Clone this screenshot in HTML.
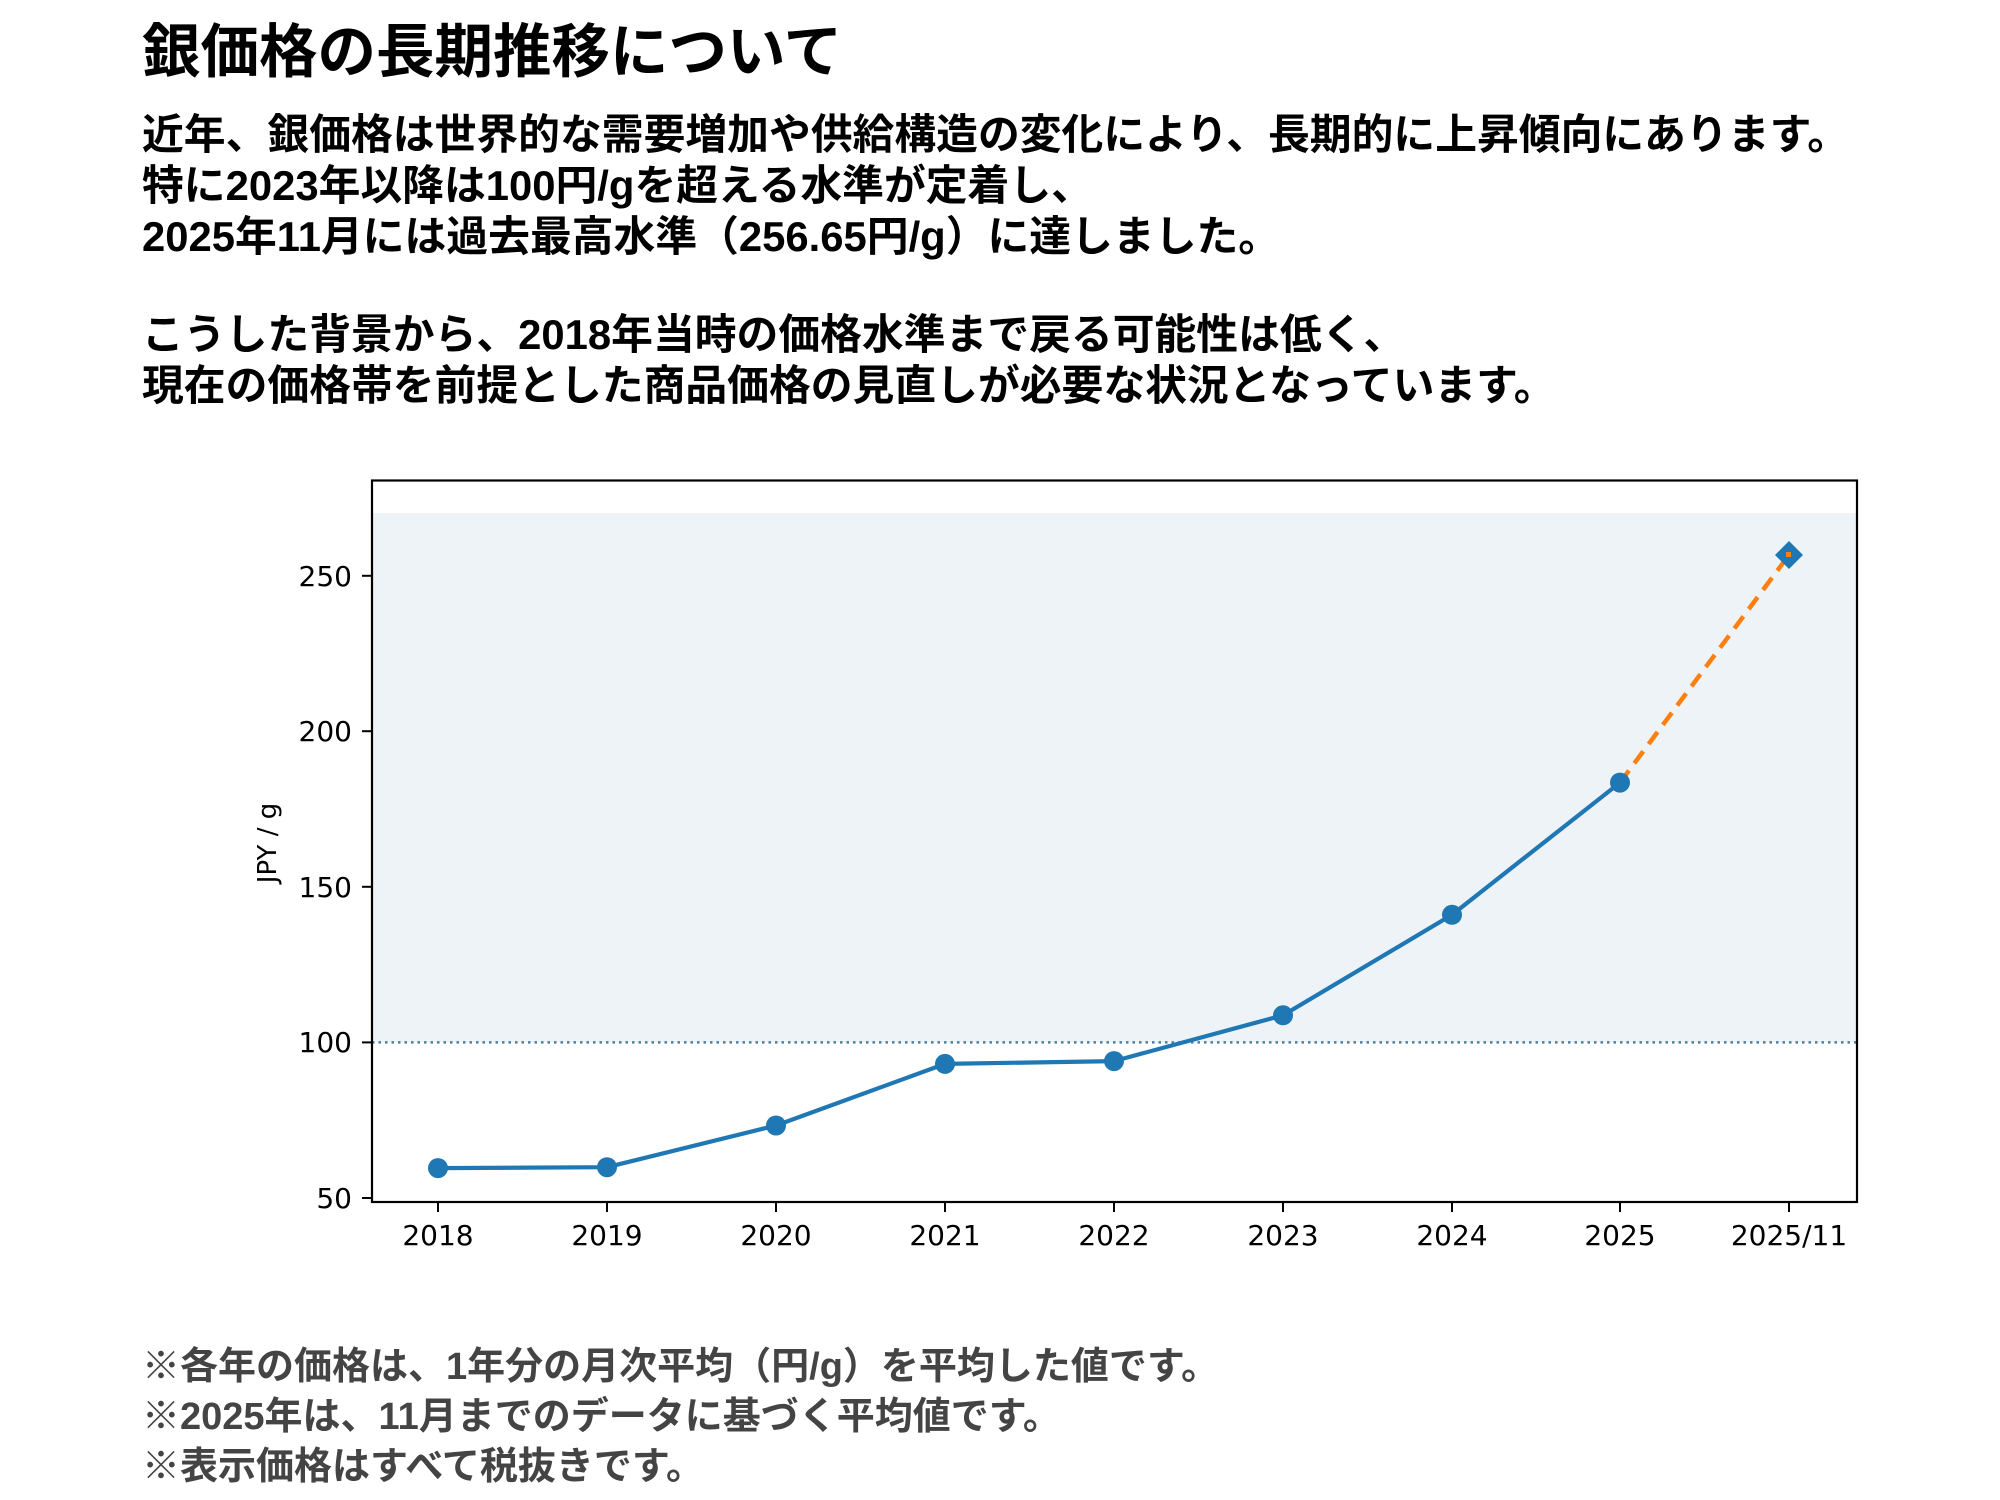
<!DOCTYPE html>
<html><head><meta charset="utf-8"><style>
body{margin:0;width:2000px;height:1500px;background:#fff;overflow:hidden;position:relative;font-family:"Liberation Sans","Noto Sans CJK JP",sans-serif;}
.t{position:absolute;left:142px;white-space:nowrap;font-weight:bold;color:#000;}
</style></head><body>
<div class="t" style="top:16px;font-size:58.5px;line-height:74px;">銀価格の長期推移について</div>
<div class="t" style="top:109px;font-size:41.8px;line-height:51px;">近年、銀価格は世界的な需要増加や供給構造の変化により、長期的に上昇傾向にあります。<br>特に2023年以降は100円/gを超える水準が定着し、<br>2025年11月には過去最高水準（256.65円/g）に達しました。</div>
<div class="t" style="top:309px;font-size:41.8px;line-height:51px;">こうした背景から、2018年当時の価格水準まで戻る可能性は低く、<br>現在の価格帯を前提とした商品価格の見直しが必要な状況となっています。</div>
<div class="t" style="top:1342px;font-size:38px;line-height:50px;color:#444;">※各年の価格は、1年分の月次平均（円/g）を平均した値です。<br>※2025年は、11月までのデータに基づく平均値です。<br>※表示価格はすべて税抜きです。</div>
<svg style="position:absolute;left:0;top:0" width="2000" height="1500" font-family="DejaVu Sans, sans-serif" font-size="28">
<rect x="372" y="513" width="1485" height="529.4" fill="#edf3f7"/>
<line x1="372" y1="1042.4" x2="1857" y2="1042.4" stroke="#4a7fa8" stroke-width="2.5" stroke-dasharray="2.5,4"/>
<polyline fill="none" stroke="#1f77b4" stroke-width="4.2" stroke-linejoin="round" points="438,1168.1 607,1167.2 776,1125.5 945,1063.9 1114,1061.1 1283,1015.3 1452,914.8 1620,782.6"/>
<line x1="1620" y1="782.6" x2="1789" y2="554.9" stroke="#ff7f0e" stroke-width="4.5" stroke-dasharray="15,9"/>
<g fill="#1f77b4">
<circle cx="438" cy="1168.1" r="10"/><circle cx="607" cy="1167.2" r="10"/><circle cx="776" cy="1125.5" r="10"/><circle cx="945" cy="1063.9" r="10"/><circle cx="1114" cy="1061.1" r="10"/><circle cx="1283" cy="1015.3" r="10"/><circle cx="1452" cy="914.8" r="10"/><circle cx="1620" cy="782.6" r="10"/>
<polygon points="1789,541 1803,555 1789,569 1775,555"/>
</g>
<rect x="1786" y="552" width="5" height="5" fill="#ff7f0e"/>
<rect x="372" y="480.5" width="1485" height="721.5" fill="none" stroke="#000" stroke-width="2.2"/>
<g stroke="#000" stroke-width="2">
<line x1="362" y1="575.8" x2="372" y2="575.8"/><line x1="362" y1="731.2" x2="372" y2="731.2"/><line x1="362" y1="886.8" x2="372" y2="886.8"/><line x1="362" y1="1042.4" x2="372" y2="1042.4"/><line x1="362" y1="1198" x2="372" y2="1198"/>
<line x1="438" y1="1202" x2="438" y2="1212"/><line x1="607" y1="1202" x2="607" y2="1212"/><line x1="776" y1="1202" x2="776" y2="1212"/><line x1="945" y1="1202" x2="945" y2="1212"/><line x1="1114" y1="1202" x2="1114" y2="1212"/><line x1="1283" y1="1202" x2="1283" y2="1212"/><line x1="1452" y1="1202" x2="1452" y2="1212"/><line x1="1620" y1="1202" x2="1620" y2="1212"/><line x1="1789" y1="1202" x2="1789" y2="1212"/>
</g>
<g text-anchor="end" fill="#000">
<text x="352" y="586">250</text><text x="352" y="741">200</text><text x="352" y="897">150</text><text x="352" y="1052">100</text><text x="352" y="1208">50</text>
</g>
<g text-anchor="middle" fill="#000">
<text x="438" y="1245">2018</text><text x="607" y="1245">2019</text><text x="776" y="1245">2020</text><text x="945" y="1245">2021</text><text x="1114" y="1245">2022</text><text x="1283" y="1245">2023</text><text x="1452" y="1245">2024</text><text x="1620" y="1245">2025</text><text x="1789" y="1245">2025/11</text>
</g>
<text transform="translate(276,843) rotate(-90)" text-anchor="middle" font-size="26">JPY / g</text>
</svg>
</body></html>
